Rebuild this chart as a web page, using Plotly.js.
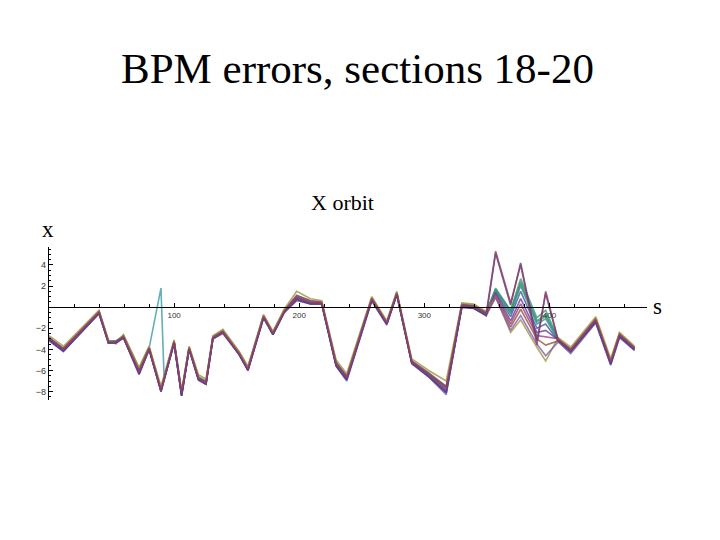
<!DOCTYPE html>
<html>
<head>
<meta charset="utf-8">
<script src="https://cdn.plot.ly/plotly-3.0.1.min.js"></script>
<style>
html,body{margin:0;padding:0;background:#fff;}
#chart{width:720px;height:540px;}
</style>
</head>
<body>
<div id="chart"></div>
<script>
// BPM positions along the ring (s)
const sPos = [0, 11.5, 40, 47.5, 53.5, 59.5, 72, 80, 89.5, 92, 100, 106, 112, 119.5, 125.5, 131, 139, 152, 159, 171.5, 179, 188, 198, 209, 218, 229.5, 238, 258, 270, 278, 290, 303.5, 317.5, 330, 339.5, 349.5, 357, 369, 377, 390, 397, 407, 417, 437, 449, 456, 468];

// X orbit for each error case
const orbitCyan = [-3.0,-4.0,-0.5,-3.3,-3.3,-2.8, -6.0,-3.9,1.8,-6.7, -3.3,-8.2,-3.9,-6.7,-7.1, -2.9,-2.3,-4.4,-5.8,-0.9, -2.5,-0.4,1.0,0.5,0.4, -5.3,-6.6,0.8,-1.5,1.3,-5.2, -6.3,-7.6,0.2,0.1,-0.6, 1.6,-0.5,2.2,-1.4,-0.9, -3.1,-4.1,-1.2,-5.2,-2.6,-3.9];
const orbitGreenTeal = [-3.0,-4.0,-0.4,-3.2,-3.3,-2.7, -5.9,-3.8,-7.8,-6.7, -3.3,-8.2,-3.9,-6.7,-7.1, -2.8,-2.3,-4.3,-5.8,-0.9, -2.4,-0.4,1.0,0.5,0.4, -5.3,-6.6,0.8,-1.5,1.3,-5.2, -6.3,-7.6,0.2,0.1,-0.5, 1.8,-0.3,2.7,-1.0,-0.3, -3.0,-4.0,-1.2,-5.1,-2.6,-3.9];
const orbitGreen = [-2.9,-3.9,-0.4,-3.2,-3.2,-2.7, -5.8,-3.8,-7.7,-6.6, -3.2,-8.1,-3.8,-6.6,-7.0, -2.8,-2.2,-4.3,-5.7,-0.8, -2.4,-0.3,1.1,0.6,0.5, -5.2,-6.5,0.9,-1.4,1.4,-5.1, -6.2,-7.5,0.3,0.2,-0.5, 1.7,-0.4,2.4,-1.3,-0.7, -3.0,-4.0,-1.1,-5.1,-2.5,-3.8];
const orbitTeal = [-3.0,-4.0,-0.5,-3.3,-3.3,-2.8, -6.0,-3.9,-7.8,-6.7, -3.3,-8.3,-3.9,-6.7,-7.1, -2.9,-2.3,-4.4,-5.8,-0.9, -2.5,-0.4,1.0,0.5,0.4, -5.3,-6.6,0.8,-1.5,1.3,-5.2, -6.3,-7.7,0.2,0.0,-0.6, 1.6,-0.6,2.0,-1.6,-1.1, -3.1,-4.1,-1.2,-5.2,-2.6,-3.9];
const orbitSlate = [-3.1,-4.1,-0.6,-3.4,-3.4,-2.9, -6.2,-4.0,-7.9,-6.8, -3.4,-8.4,-4.0,-6.8,-7.2, -3.0,-2.4,-4.5,-5.9,-1.0, -2.6,-0.5,0.8,0.3,0.3, -5.5,-6.8,0.7,-1.6,1.2,-5.3, -6.5,-8.0,0.0,-0.1,-0.7, 1.4,-0.9,1.5,-2.0,-1.6, -3.2,-4.3,-1.4,-5.4,-2.8,-4.1];
const orbitPurple = [-3.0,-4.1,-0.5,-3.3,-3.4,-2.8, -6.1,-3.9,-7.9,-6.8, -3.3,-8.3,-3.9,-6.8,-7.2, -2.9,-2.3,-4.4,-5.9,-0.9, -2.5,-0.4,0.9,0.4,0.4, -5.4,-6.7,0.8,-1.5,1.3,-5.2, -6.4,-7.9,0.1,0.0,-0.6, 1.3,-1.3,0.8,-2.4,-2.2, -3.1,-4.1,-1.2,-5.2,-2.6,-3.9];
const orbitPink = [-2.9,-3.9,-0.4,-3.3,-3.3,-2.7, -6.0,-3.8,-7.8,-6.7, -3.2,-8.1,-3.8,-6.7,-7.1, -2.8,-2.3,-4.3,-5.8,-0.8, -2.4,-0.3,1.1,0.6,0.5, -5.3,-6.6,0.8,-1.5,1.3,-5.1, -6.3,-7.5,0.2,0.1,-0.5, 1.2,-1.6,0.3,-2.7,-2.8, -3.0,-4.0,-1.1,-5.1,-2.5,-3.8];
const orbitOlive = [-2.7,-3.7,-0.3,-3.1,-3.5,-2.6, -5.7,-3.7,-7.5,-6.4, -3.1,-7.9,-3.7,-6.4,-6.8, -2.7,-2.1,-4.2,-5.6,-0.7, -2.3,-0.2,1.5,0.8,0.6, -5.0,-6.3,1.0,-1.3,1.5,-4.9, -6.0,-7.0,0.4,0.3,-0.4, 1.0,-2.4,-1.2,-3.8,-5.1, -2.9,-3.8,-0.9,-4.9,-2.4,-3.7];
const orbitBrown = [-3.1,-4.1,-0.5,-3.4,-3.2,-2.9, -6.4,-4.0,-8.0,-6.9, -3.4,-8.3,-4.0,-6.9,-7.3, -3.0,-2.4,-4.5,-6.0,-1.0, -2.6,-0.5,0.8,0.4,0.3, -5.5,-6.8,0.7,-1.6,1.2,-5.3, -6.5,-8.1,0.1,-0.1,-0.7, 1.0,-1.9,-0.2,-3.0,-3.6, -3.2,-4.2,-1.3,-5.3,-2.7,-4.0];
const orbitLavender = [-3.2,-4.2,-0.6,-3.4,-3.4,-2.9, -6.3,-4.0,-8.0,-6.9, -3.4,-8.4,-4.0,-6.9,-7.3, -3.0,-2.5,-4.5,-6.0,-1.0, -2.6,-0.5,0.6,0.3,0.3, -5.6,-7.0,0.6,-1.7,1.2,-5.4, -6.6,-8.3,0.0,-0.1,-0.8, 0.9,-2.2,-0.8,-3.5,-4.6, -3.3,-4.4,-1.5,-5.5,-2.9,-4.1];
const orbitBlue = [-3.1,-4.2,-0.6,-3.4,-3.4,-2.9, -6.3,-4.0,-8.0,-6.9, -3.4,-8.4,-4.0,-6.9,-7.3, -3.0,-2.4,-4.5,-6.0,-1.0, -2.6,-0.5,0.7,0.3,0.3, -5.6,-6.9,0.6,-1.6,1.2,-5.3, -6.6,-8.1,0.0,-0.1,-0.8, 5.1,0.2,4.2,-3.2,1.3, -3.2,-4.2,-1.4,-5.4,-2.8,-4.0];
const orbitMaroon = [-2.9,-4.0,-0.5,-3.3,-3.3,-2.8, -6.1,-3.9,-7.9,-6.8, -3.3,-8.2,-3.9,-6.8,-7.2, -2.9,-2.4,-4.4,-5.9,-0.9, -2.5,-0.4,0.9,0.4,0.4, -5.4,-6.7,0.8,-1.5,1.3,-5.2, -6.4,-7.7,0.2,0.1,-0.6, 5.3,0.4,4.0,-3.6,1.5, -3.1,-4.1,-1.2,-5.2,-2.6,-3.9];

const seriesList = [
  {y: orbitCyan, color: '#3f9aa3'},
  {y: orbitGreenTeal, color: '#3d9980'},
  {y: orbitGreen, color: '#3d9956'},
  {y: orbitTeal, color: '#3d8f99'},
  {y: orbitSlate, color: '#3d5a99'},
  {y: orbitPurple, color: '#6b3d99'},
  {y: orbitPink, color: '#99407a'},
  {y: orbitOlive, color: '#a39140'},
  {y: orbitBrown, color: '#99523d'},
  {y: orbitLavender, color: '#7a5fa8'},
  {y: orbitBlue, color: '#3f3d99'},
  {y: orbitMaroon, color: '#993d5e'}
];

const xTickVals = [100, 200, 300, 400];
const yTickVals = [-8, -6, -4, -2, 2, 4];

const yMin = -8.8, yMax = 5.7;
const traces = seriesList.map(s => ({
  type: 'scatter', mode: 'lines', x: sPos, y: s.y,
  line: {color: s.color, width: 1.6}, opacity: 0.8,
  hoverinfo: 'skip', showlegend: false
}));

const serif = '"Liberation Serif", "Times New Roman", serif';
const layout = {
  width: 720, height: 540,
  paper_bgcolor: '#fff', plot_bgcolor: 'rgba(0,0,0,0)',
  margin: {l: 49, r: 73, t: 247, b: 140},
  showlegend: false,
  title: {text: 'BPM errors, sections 18-20', x: 0.4965, xref: 'container', xanchor: 'center',
          y: 0.874, yref: 'container', yanchor: 'middle',
          font: {family: serif, size: 43, color: '#000'}},
  xaxis: {
    range: [0, 478], anchor: 'free', position: (0 - yMin) / (yMax - yMin),
    showline: true, linecolor: '#000', linewidth: 1.3,
    showgrid: false, zeroline: false,
    tickmode: 'array', tickvals: xTickVals, ticktext: xTickVals.map(String),
    ticks: 'inside', ticklen: 4, tickcolor: '#000', tickwidth: 1,
    minor: {tickmode: 'linear', tick0: 0, dtick: 20, ticks: 'inside', ticklen: 3, tickcolor: '#000'},
    tickfont: {family: '"Liberation Sans", Arial, sans-serif', size: 8, color: '#333'}
  },
  yaxis: {
    range: [yMin, yMax],
    showline: true, linecolor: '#000', linewidth: 1.3,
    showgrid: false, zeroline: false,
    tickmode: 'array', tickvals: yTickVals, ticktext: yTickVals.map(v => v < 0 ? '\u2212' + Math.abs(v) : String(v)),
    ticks: 'inside', ticklen: 4, tickcolor: '#000', tickwidth: 1,
    minor: {tickmode: 'linear', tick0: 0, dtick: 0.5, ticks: 'inside', ticklen: 2, tickcolor: '#000'},
    tickfont: {family: '"Liberation Sans", Arial, sans-serif', size: 9, color: '#333'}
  },
  annotations: [
    {text: 'X orbit', xref: 'paper', yref: 'paper', x: 0.49, y: 1.29, xanchor: 'center', yanchor: 'middle',
     showarrow: false, font: {family: serif, size: 22, color: '#000'}},
    {text: 'x', xref: 'paper', yref: 'paper', x: -0.002, y: 1.115, xanchor: 'center', yanchor: 'middle',
     showarrow: false, font: {family: serif, size: 23, color: '#000'}},
    {text: 's', xref: 'paper', yref: 'paper', x: 1.017, y: 0.61, xanchor: 'center', yanchor: 'middle',
     showarrow: false, font: {family: serif, size: 23, color: '#000'}}
  ]
};

Plotly.newPlot('chart', traces, layout, {staticPlot: true, displayModeBar: false});
</script>
</body>
</html>
